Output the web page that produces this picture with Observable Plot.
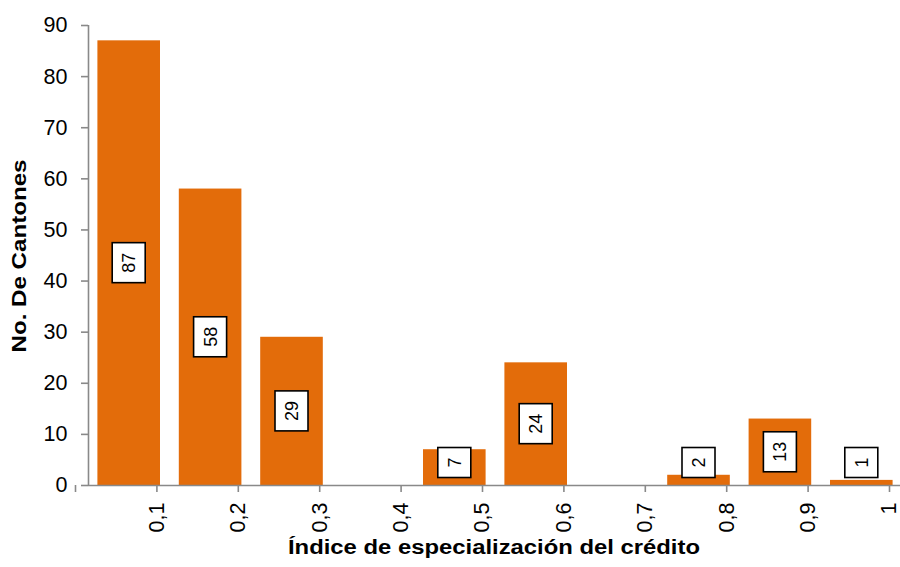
<!DOCTYPE html>
<html>
<head>
<meta charset="utf-8">
<script src="https://cdn.jsdelivr.net/npm/d3@7"></script>
<script src="https://cdn.jsdelivr.net/npm/@observablehq/plot@0.6"></script>
<style>
  html, body { margin: 0; padding: 0; background: #fff; }
  #chart svg { display: block; font-family: "Liberation Sans", Arial, sans-serif; }
</style>
</head>
<body>
<div id="chart"></div>
<script>
const binStart = [0, 0.1, 0.2, 0.3, 0.4, 0.5, 0.6, 0.7, 0.8, 0.9];
const binEnd   = [0.1, 0.2, 0.3, 0.4, 0.5, 0.6, 0.7, 0.8, 0.9, 1.0];
const counts   = [87, 58, 29, 0, 7, 24, 0, 2, 13, 1];
const xTickValues = [0, 0.1, 0.2, 0.3, 0.4, 0.5, 0.6, 0.7, 0.8, 0.9, 1.0];
const xTickLabels = ["", "0,1", "0,2", "0,3", "0,4", "0,5", "0,6", "0,7", "0,8", "0,9", "1"];
const yTickValues = [0, 10, 20, 30, 40, 50, 60, 70, 80, 90];
const xTitle = "Índice de especialización del crédito";
const yTitle = "No. De Cantones";

const data = binStart.map((s, i) => ({x0: s, x1: binEnd[i], count: counts[i]}));
const axisGray = "#898989";
const barColor = "#E36C0A";

function valueLabels(index, scales, values, dims) {
  const g = d3.create("svg:g");
  data.filter(d => d.count > 0).forEach(d => {
    const cx = scales.x((d.x0 + d.x1) / 2);
    const cy = scales.y(Math.max(d.count / 2, 4.4));
    const s = String(d.count);
    const h = 20 + 10 * s.length;
    const w = 33;
    g.append("rect")
      .attr("x", cx - w / 2).attr("y", cy - h / 2)
      .attr("width", w).attr("height", h)
      .attr("fill", "white").attr("stroke", "black").attr("stroke-width", 1.6);
    g.append("text")
      .attr("transform", `translate(${cx},${cy}) rotate(-90)`)
      .attr("text-anchor", "middle")
      .attr("dy", "0.36em")
      .attr("font-size", 18)
      .attr("fill", "black")
      .text(s);
  });
  return g.node();
}

function axisTitles(index, scales, values, dims) {
  const g = d3.create("svg:g")
    .attr("font-weight", "bold").attr("fill", "black").attr("text-anchor", "middle");
  const cx = (scales.x(0) + scales.x(1)) / 2 - 1;
  g.append("text")
    .attr("x", cx).attr("y", dims.height - 13)
    .attr("font-size", 20)
    .attr("textLength", 412).attr("lengthAdjust", "spacingAndGlyphs")
    .text(xTitle);
  const cy = (scales.y(0) + scales.y(90)) / 2 + 1;
  g.append("text")
    .attr("transform", `translate(26,${cy}) rotate(-90)`)
    .attr("font-size", 20.5)
    .attr("textLength", 193).attr("lengthAdjust", "spacingAndGlyphs")
    .text(yTitle);
  return g.node();
}

const chart = Plot.plot({
  width: 900,
  height: 567,
  marginLeft: 88,
  marginRight: 0,
  marginTop: 25,
  marginBottom: 82,
  style: {fontFamily: "Liberation Sans, Arial, sans-serif", background: "white"},
  x: {domain: [0, 1], range: [88, 902], axis: null},
  y: {domain: [0, 90], axis: null},
  marks: [
    Plot.rectY(data, {x1: "x0", x2: "x1", y: "count", fill: barColor, insetLeft: 9.4, insetRight: 9.4}),
    Plot.ruleY([0], {stroke: axisGray, strokeWidth: 1.6}),
    Plot.ruleX([0], {stroke: axisGray, strokeWidth: 1.6}),
    Plot.axisY({
      ticks: yTickValues, tickSize: 7, tickPadding: 14, fontSize: 21.5,
      stroke: axisGray, strokeWidth: 1.6, fill: "black", label: null
    }),
    Plot.axisX({
      ticks: xTickValues, tickSize: 7, tickPadding: 10, fontSize: 21.5,
      tickRotate: -90, dx: -13,
      tickFormat: (d, i) => xTickLabels[i],
      stroke: axisGray, strokeWidth: 1.6, fill: "black", label: null
    }),
    valueLabels,
    axisTitles
  ]
});
document.getElementById("chart").appendChild(chart);
</script>
</body>
</html>
